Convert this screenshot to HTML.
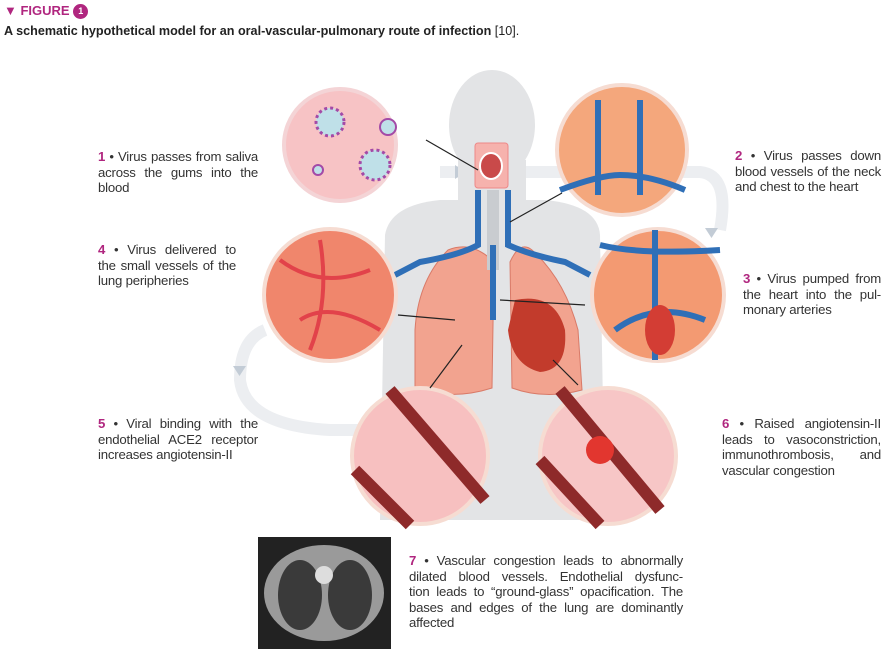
<!DOCTYPE html>
<html><head><meta charset="utf-8">
<style>
body{margin:0;width:891px;height:658px;background:#fff;position:relative;overflow:hidden;font-family:"Liberation Sans",sans-serif;color:#333}
.h1{position:absolute;left:4px;top:3px;font-weight:bold;color:#b0267f;font-size:13px}
.h2{position:absolute;left:4px;top:24px;font-weight:bold;font-size:12.6px;color:#222}
.t{position:absolute;font-size:13.2px;line-height:15.5px;color:#333;letter-spacing:-0.2px}
.t div{text-align:justify;text-align-last:justify;white-space:nowrap}
.t div.l{text-align-last:left}
.n{color:#b0267f;font-weight:bold}
svg{position:absolute;left:0;top:0}
</style></head><body>
<svg width="891" height="658" viewBox="0 0 891 658">
<g fill="none" stroke="#eceef1" stroke-width="12">
<path d="M440 172 H700 Q730 175 720 230"/>
<path d="M600 292 H360"/>
<path d="M265 330 Q240 340 240 380 Q245 425 330 430 H540"/>
</g>
<g fill="#c3ccd6">
<path d="M455 165 l10 7 -10 7z"/><path d="M705 228 l13 0 -6.5 10z"/><path d="M408 285 l-12 7 12 7z"/><path d="M233 366 l13 0 -6.5 10z"/><path d="M515 425 l12 7 -12 7z"/>
</g>
<g fill="#e3e4e6">
<ellipse cx="492" cy="125" rx="43" ry="55"/>
<rect x="458" y="160" width="68" height="55"/>
<path d="M385 235 Q390 205 440 200 L545 200 Q598 205 600 235 L605 520 L380 520 Z"/>
</g>
<path d="M448 250 Q418 280 415 330 L415 390 Q455 400 492 388 L494 262 Q472 240 448 250Z" fill="#f2a38f" stroke="#d97a68"/>
<path d="M532 250 Q565 280 578 330 L582 390 Q545 400 512 388 L510 262 Q520 240 532 250Z" fill="#f2a38f" stroke="#d97a68"/>
<path d="M515 300 Q555 292 565 330 Q568 370 540 372 Q512 365 508 330Z" fill="#c23b2c"/>
<rect x="487" y="190" width="12" height="80" fill="#c9ccd0"/>
<g fill="none" stroke="#2f6fb7" stroke-width="6">
<path d="M478 190 V245 Q460 255 420 262 L395 275"/>
<path d="M508 190 V245 Q530 255 565 262 L590 275"/>
<path d="M493 245 V320"/>
</g>
<rect x="475" y="143" width="33" height="45" rx="3" fill="#f6b2ad" stroke="#e88"/>
<ellipse cx="491" cy="166" rx="11" ry="13" fill="#c94a4a" stroke="#fff" stroke-width="2"/>
<circle cx="340" cy="145" r="56" fill="#f7c3c5" stroke="#f4d4d6" stroke-width="4"/>
<circle cx="330" cy="122" r="14" fill="#bfe0e8" stroke="#a34aa7" stroke-width="3" stroke-dasharray="3 3"/>
<circle cx="375" cy="165" r="15" fill="#bfe0e8" stroke="#a34aa7" stroke-width="3" stroke-dasharray="3 3"/>
<circle cx="388" cy="127" r="8" fill="#bfe0e8" stroke="#a34aa7" stroke-width="2"/>
<circle cx="318" cy="170" r="5" fill="#bfe0e8" stroke="#a34aa7" stroke-width="2"/>
<circle cx="622" cy="150" r="65" fill="#f4a77c" stroke="#f6dcd2" stroke-width="4"/>
<path d="M598 100 V195 M640 100 V195 M560 190 Q600 175 620 175 Q650 175 685 190" stroke="#2f6fb7" stroke-width="6" fill="none"/>
<circle cx="658" cy="295" r="66" fill="#f39a72" stroke="#f6dcd2" stroke-width="4"/>
<path d="M655 230 V360 M600 245 Q640 255 720 250 M615 330 Q655 300 705 320" stroke="#2f6fb7" stroke-width="6" fill="none"/>
<ellipse cx="660" cy="330" rx="15" ry="25" fill="#d33d34"/>
<circle cx="330" cy="295" r="66" fill="#f0866c" stroke="#f6dcd2" stroke-width="4"/>
<path d="M280 260 Q320 290 370 270 M300 320 Q330 300 380 330 M320 240 Q330 300 310 350" stroke="#e2424a" stroke-width="4" fill="none"/>
<circle cx="420" cy="456" r="68" fill="#f7c0c0" stroke="#f6dcd2" stroke-width="4"/>
<path d="M390 390 L485 500 M355 470 L410 525" stroke="#8e2a2a" stroke-width="12"/>
<circle cx="608" cy="456" r="68" fill="#f7c6c6" stroke="#f6dcd2" stroke-width="4"/>
<path d="M560 390 L660 510 M540 460 L600 525" stroke="#8e2a2a" stroke-width="12"/>
<circle cx="600" cy="450" r="14" fill="#e2362f"/>
<g stroke="#222" stroke-width="1.2" fill="none">
<path d="M426 140 L478 170"/><path d="M562 193 L510 222"/><path d="M398 315 L455 320"/><path d="M585 305 L500 300"/><path d="M430 388 L462 345"/><path d="M578 385 L553 360"/>
</g>
<rect x="258" y="537" width="133" height="112" fill="#222"/>
<ellipse cx="324" cy="593" rx="60" ry="48" fill="#9a9a9a"/>
<ellipse cx="300" cy="595" rx="22" ry="35" fill="#3a3a3a"/>
<ellipse cx="350" cy="595" rx="22" ry="35" fill="#3a3a3a"/>
<circle cx="324" cy="575" r="9" fill="#ddd"/>
</svg>
<div class="h1">▼ FIGURE <span style="display:inline-block;width:15px;height:15px;border-radius:50%;background:#b0267f;color:#fff;font-size:9px;text-align:center;line-height:15px;vertical-align:1px">1</span></div>
<div class="h2">A schematic hypothetical model for an oral-vascular-pulmonary route of infection <span style="font-weight:normal">[10].</span></div>
<div class="t" style="left:98px;top:149px;width:160px"><div><span class="n">1</span> • Virus passes from saliva</div><div>across the gums into the</div><div class="l">blood</div></div>
<div class="t" style="left:98px;top:242px;width:138px"><div><span class="n">4</span> • Virus delivered to</div><div>the small vessels of the</div><div class="l">lung peripheries</div></div>
<div class="t" style="left:98px;top:416px;width:160px"><div><span class="n">5</span> • Viral binding with the</div><div>endothelial ACE2 receptor</div><div class="l">increases angiotensin-II</div></div>
<div class="t" style="left:735px;top:148px;width:146px"><div><span class="n">2</span> • Virus passes down</div><div>blood vessels of the neck</div><div class="l">and chest to the heart</div></div>
<div class="t" style="left:743px;top:271px;width:138px"><div><span class="n">3</span> • Virus pumped from</div><div>the heart into the pul-</div><div class="l">monary arteries</div></div>
<div class="t" style="left:722px;top:416px;width:159px"><div><span class="n">6</span> • Raised angiotensin-II</div><div>leads to vasoconstriction,</div><div>immunothrombosis, and</div><div class="l">vascular congestion</div></div>
<div class="t" style="left:409px;top:553px;width:274px"><div><span class="n">7</span> • Vascular congestion leads to abnormally</div><div>dilated blood vessels. Endothelial dysfunc-</div><div>tion leads to “ground-glass” opacification. The</div><div>bases and edges of the lung are dominantly</div><div class="l">affected</div></div>
</body></html>
